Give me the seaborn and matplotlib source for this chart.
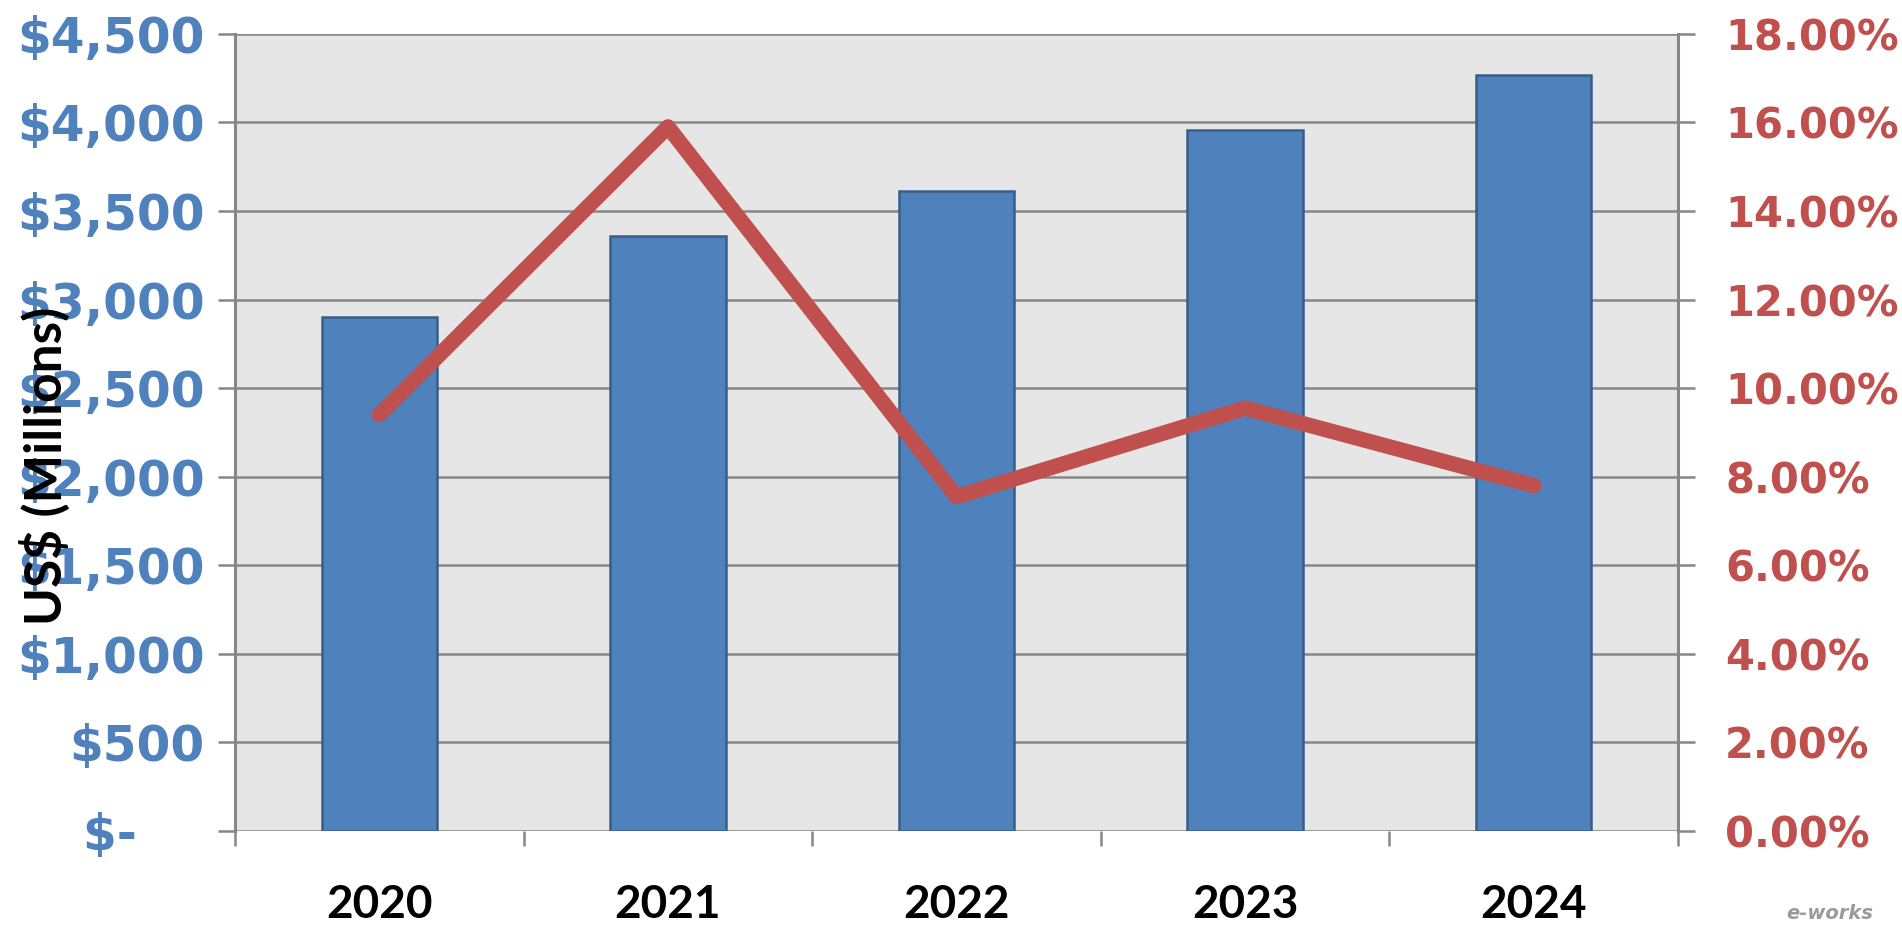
import matplotlib
matplotlib.use("Agg")
import matplotlib.pyplot as plt
import matplotlib.ticker as mticker
import seaborn as sns
import pandas as pd

# data
years = ["2020", "2021", "2022", "2023", "2024"]
revenue = [2900, 3360, 3615, 3955, 4265]          # US$ millions
growth = [9.4, 15.9, 7.55, 9.55, 7.8]             # percent

df = pd.DataFrame({"year": years, "revenue": revenue, "growth": growth})

sns.set_style("white")
plt.rcParams["font.family"] = ["DejaVu Sans"]

blue = "#4F81BD"
red = "#C0504D"
grey = "#878787"

fig = plt.figure(figsize=(19.02, 9.40), dpi=100)
ax = fig.add_axes([0.1236, 0.116, 0.7586, 0.848])
ax.set_facecolor("#E6E6E6")

sns.barplot(data=df, x="year", y="revenue", ax=ax, color=blue, width=0.4,
            edgecolor="#385D8A", linewidth=1.8, saturation=1)

ax.set_ylim(0, 4500)
ax.set_xlim(-0.5, 4.5)
ax.yaxis.set_major_locator(mticker.MultipleLocator(500))
# accounting style: zero shows as "$-" with trailing padding
ax.yaxis.set_major_formatter(mticker.FuncFormatter(lambda v, p: "$-    " if v == 0 else f"${v:,.0f}"))
ax.grid(axis="y", color=grey, linewidth=1.8)
ax.set_axisbelow(True)

for s in ["top", "bottom"]:
    ax.spines[s].set_visible(False)
for s in ["left", "right"]:
    ax.spines[s].set_color(grey)
    ax.spines[s].set_linewidth(2.2)

ax.tick_params(axis="y", left=True, length=12, width=1.8, color=grey,
               labelsize=35, labelcolor=blue, pad=10)
for t in ax.get_yticklabels():
    t.set_fontweight("bold")

# category boundary ticks on the bottom
ax.set_xticks([-0.5, 0.5, 1.5, 2.5, 3.5, 4.5], minor=True)
ax.tick_params(axis="x", which="minor", bottom=True, length=11, width=1.8, color=grey)
ax.tick_params(axis="x", which="major", bottom=False, length=0, pad=38)
ax.set_xticks(range(len(years)))
ax.set_xticklabels(years, fontsize=33, fontweight="bold", family="Lato", color="black")
ax.set_xlabel("")
ax.set_ylabel("")

ax2 = ax.twinx()
sns.pointplot(data=df, x="year", y="growth", ax=ax2, color=red, markers="",
              linewidth=11, solid_capstyle="round", errorbar=None)
ax2.set_xlim(-0.5, 4.5)
ax2.set_ylim(0, 18)
ax2.yaxis.set_major_locator(mticker.MultipleLocator(2))
ax2.yaxis.set_major_formatter(mticker.FuncFormatter(lambda v, p: f"{v:.2f}%"))
ax2.tick_params(axis="y", right=True, length=12, width=1.8, color=grey,
                labelsize=30, labelcolor=red, pad=22)
for t in ax2.get_yticklabels():
    t.set_fontweight("bold")
for s in ["top", "bottom", "left", "right"]:
    ax2.spines[s].set_visible(False)
ax2.set_ylabel("")
ax2.set_xlabel("")

# axis title sits over the tick labels, as in the original
fig.text(0.024, 0.504, "US$ (Millions)", rotation=90, ha="center", va="center",
         fontsize=37, fontweight="bold", family="Lato", color="black")

fig.text(0.985, 0.018, "e-works", ha="right", va="bottom", fontsize=14,
         style="italic", fontweight="bold", color="#9a9a9a")

fig.savefig("out.png", dpi=100)
